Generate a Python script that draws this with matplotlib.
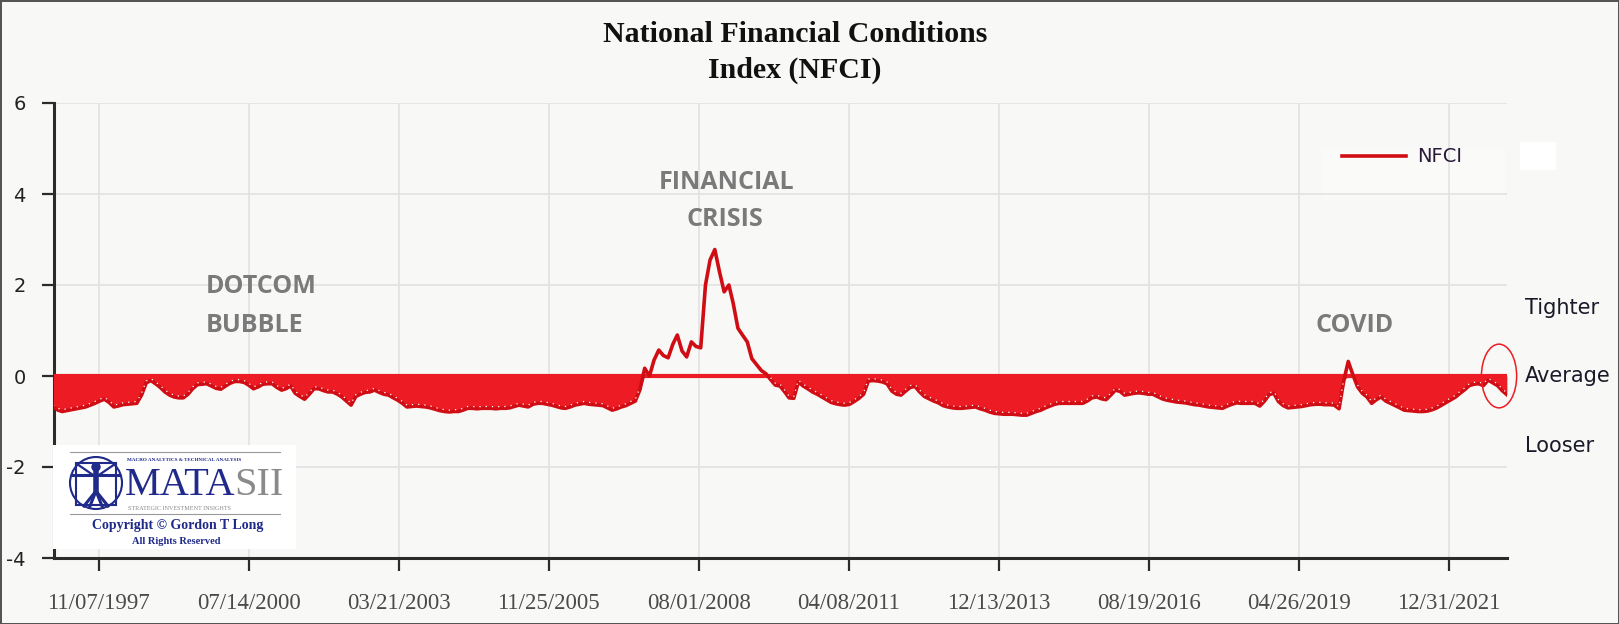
import numpy as np
import pandas as pd
import matplotlib
matplotlib.use("Agg")
import matplotlib.pyplot as plt
import matplotlib.dates as mdates
from matplotlib.patches import Ellipse, Circle, Rectangle
from matplotlib.lines import Line2D

plt.rcParams["axes.unicode_minus"] = False

W, H = 1619, 624

# NFCI, monthly readings, Jan 1997 .. Jan 2023
nfci = [
    -0.68, -0.75, -0.78, -0.76, -0.74, -0.72, -0.70, -0.68, -0.64, -0.60, -0.55, -0.51,  # 1997
    -0.58, -0.68, -0.66, -0.63, -0.62, -0.61, -0.60, -0.42, -0.15, -0.10, -0.17, -0.25,  # 1998
    -0.35, -0.42, -0.46, -0.48, -0.48, -0.40, -0.28, -0.19, -0.18, -0.17, -0.22, -0.27,  # 1999
    -0.29, -0.22, -0.16, -0.12, -0.12, -0.14, -0.20, -0.28, -0.24, -0.18, -0.17, -0.17,  # 2000
    -0.25, -0.31, -0.28, -0.22, -0.38, -0.45, -0.51, -0.40, -0.28, -0.28, -0.32, -0.35,  # 2001
    -0.35, -0.40, -0.46, -0.55, -0.64, -0.45, -0.40, -0.36, -0.35, -0.31, -0.36, -0.40,  # 2002
    -0.42, -0.48, -0.53, -0.60, -0.68, -0.67, -0.66, -0.67, -0.68, -0.70, -0.73, -0.76,  # 2003
    -0.78, -0.79, -0.78, -0.78, -0.75, -0.71, -0.71, -0.72, -0.71, -0.71, -0.71, -0.72,  # 2004
    -0.71, -0.71, -0.70, -0.67, -0.64, -0.66, -0.68, -0.62, -0.60, -0.60, -0.62, -0.64,  # 2005
    -0.67, -0.70, -0.71, -0.68, -0.64, -0.62, -0.60, -0.62, -0.63, -0.64, -0.65, -0.70,  # 2006
    -0.75, -0.72, -0.68, -0.65, -0.60, -0.55, -0.30, 0.17, 0.00, 0.35, 0.57, 0.45,      # 2007
    0.40, 0.70, 0.90, 0.55, 0.42, 0.75, 0.65, 0.62, 2.00, 2.55, 2.78, 2.30,             # 2008
    1.85, 2.00, 1.60, 1.05, 0.90, 0.75, 0.38, 0.25, 0.12, 0.05, -0.08, -0.20,           # 2009
    -0.22, -0.35, -0.48, -0.49, -0.13, -0.22, -0.28, -0.35, -0.40, -0.46, -0.52, -0.58,  # 2010
    -0.61, -0.63, -0.64, -0.62, -0.56, -0.49, -0.40, -0.11, -0.10, -0.11, -0.13, -0.17,  # 2011
    -0.33, -0.40, -0.42, -0.33, -0.25, -0.23, -0.35, -0.45, -0.50, -0.55, -0.59, -0.65,  # 2012
    -0.68, -0.70, -0.71, -0.71, -0.70, -0.69, -0.68, -0.72, -0.75, -0.79, -0.82, -0.83,  # 2013
    -0.84, -0.84, -0.84, -0.85, -0.86, -0.86, -0.82, -0.78, -0.75, -0.70, -0.66, -0.62,  # 2014
    -0.60, -0.60, -0.60, -0.60, -0.60, -0.60, -0.55, -0.48, -0.46, -0.50, -0.52, -0.42,  # 2015
    -0.31, -0.34, -0.42, -0.40, -0.38, -0.37, -0.38, -0.40, -0.40, -0.45, -0.50, -0.53,  # 2016
    -0.55, -0.57, -0.58, -0.59, -0.61, -0.63, -0.64, -0.66, -0.68, -0.69, -0.70, -0.71,  # 2017
    -0.66, -0.62, -0.59, -0.60, -0.60, -0.60, -0.60, -0.66, -0.55, -0.41, -0.38, -0.56,  # 2018
    -0.65, -0.70, -0.69, -0.68, -0.67, -0.65, -0.63, -0.62, -0.62, -0.63, -0.63, -0.64,  # 2019
    -0.72, -0.10, 0.32, 0.02, -0.24, -0.38, -0.46, -0.60, -0.52, -0.46, -0.55, -0.60,    # 2020
    -0.65, -0.70, -0.75, -0.76, -0.77, -0.78, -0.78, -0.77, -0.74, -0.70, -0.64, -0.58,  # 2021
    -0.52, -0.46, -0.38, -0.30, -0.21, -0.18, -0.17, -0.21, -0.09, -0.15, -0.21, -0.32,  # 2022
    -0.41,                                                                                # 2023
]
months = pd.date_range("1997-01-01", periods=len(nfci), freq="MS") + pd.Timedelta(days=14)
nfci = np.array(nfci)

xtick_labels = ["11/07/1997", "07/14/2000", "03/21/2003", "11/25/2005", "08/01/2008",
                "04/08/2011", "12/13/2013", "08/19/2016", "04/26/2019", "12/31/2021"]
yticks = [-4, -2, 0, 2, 4, 6]
side_labels = ["Tighter", "Average", "Looser"]


def fpos(x, y):
    # pixel position -> figure fraction
    return x / W, 1 - y / H


fig = plt.figure(figsize=(W / 100, H / 100), dpi=100)
fig.patch.set_facecolor("#f8f8f6")
fig.patch.set_edgecolor("#555555")
fig.patch.set_linewidth(2)

# faint white patches behind the legend area
fig.patches.append(Rectangle(fpos(1322, 197), 183 / W, 48 / H, transform=fig.transFigure,
                             facecolor="#fafaf9", edgecolor="none", zorder=-5))
fig.patches.append(Rectangle(fpos(1520, 170), 36 / W, 28 / H, transform=fig.transFigure,
                             facecolor="white", edgecolor="none", zorder=-5))

ax = fig.add_axes([53.5 / W, 1 - 558 / H, (1507 - 53.5) / W, (558 - 103) / H])
ax.set_facecolor("none")

red = "#ed1c24"
dark_red = "#d00d14"
ax.fill_between(months, np.minimum(nfci, 0), 0, color=red, lw=0, zorder=3)
ax.plot([months[0], months[-1]], [0, 0], color=red, lw=3, zorder=3)
ax.plot(months, nfci, color=dark_red, lw=2.6, zorder=4)
neg = np.where(nfci < -0.05, nfci + 0.04, np.nan)
ax.plot(months, neg, color="white", lw=0.9, ls=(0, (1, 4)), zorder=5)

ax.set_ylim(-4, 6)
ax.set_yticks(yticks)
ax.set_xlim(pd.Timestamp("1997-01-17"), pd.Timestamp("2023-01-16"))
ax.set_xticks(pd.to_datetime(xtick_labels, format="%m/%d/%Y"))
ax.set_xticklabels(xtick_labels, fontsize=16.5, family="Liberation Serif", color="#4a4a4a")
for t in ax.get_yticklabels():
    t.set_fontsize(14)
    t.set_color("#222222")

ax.grid(True, color="#e2e2e2", lw=1.2)
ax.set_axisbelow(True)
for s in ["top", "right"]:
    ax.spines[s].set_visible(False)
for s in ["left", "bottom"]:
    ax.spines[s].set_linewidth(2.2)
    ax.spines[s].set_color("#2b2b2b")
ax.tick_params(axis="both", direction="out", length=9, width=1.6, color="#2b2b2b")
ax.tick_params(axis="y", pad=11)
ax.tick_params(axis="x", pad=16)

# circled last reading
ell = Ellipse((mdates.date2num(pd.Timestamp("2022-11-25")), 0), width=230, height=1.4,
              fill=False, edgecolor=red, lw=1.1, zorder=6, clip_on=False)
ax.add_patch(ell)

# event labels
ev = dict(color="#7a7a7a", fontweight="bold", family="Open Sans", fontsize=18, va="center")
fig.text(*fpos(206, 287), "DOTCOM", ha="left", **ev)
fig.text(*fpos(206, 325), "BUBBLE", ha="left", **ev)
fig.text(*fpos(727, 182), "FINANCIAL", ha="center", **ev)
fig.text(*fpos(725, 219), "CRISIS", ha="center", **ev)
fig.text(*fpos(1355, 325), "COVID", ha="center", **ev)

# title
fig.text(*fpos(795, 34), "National Financial Conditions", ha="center", va="center",
         family="Liberation Serif", fontweight="bold", fontsize=21.5, color="#111111")
fig.text(*fpos(795, 70), "Index (NFCI)", ha="center", va="center",
         family="Liberation Serif", fontweight="bold", fontsize=21.5, color="#111111")

# right-hand side labels
for lab, yy in zip(side_labels, [308, 376, 446]):
    fig.text(*fpos(1525, yy), lab, ha="left", va="center", fontsize=15, color="#1a1a2a")

# legend
leg = fig.legend(handles=[Line2D([], [], color=dark_red, lw=2.6)], labels=["NFCI"],
                 loc="center left", bbox_to_anchor=fpos(1342, 157),
                 bbox_transform=fig.transFigure, frameon=False, fontsize=14,
                 handlelength=3.3, handletextpad=0.55, borderpad=0, borderaxespad=0)
leg.set_zorder(10)
for t in leg.get_texts():
    t.set_color("#2a1a3a")

# logo box
lg = fig.add_axes([53 / W, 1 - 549 / H, 243 / W, 104 / H])
lg.set_xlim(0, 243)
lg.set_ylim(104, 0)
lg.axis("off")
navy = "#1f2a8a"
lg.add_patch(Rectangle((0, 0), 243, 104, facecolor="white", edgecolor="none"))
lg.plot([17, 227], [6.5, 6.5], color="#9a9a9a", lw=0.8)
lg.plot([17, 227], [69, 69], color="#9a9a9a", lw=0.8)
lg.add_patch(Circle((43, 38), 26, fill=False, edgecolor=navy, lw=1.5))
lg.add_patch(Rectangle((23, 18), 40, 42, fill=False, edgecolor=navy, lw=1.5))
lg.add_patch(Circle((43, 22), 4, color=navy))
lg.plot([43, 43], [26, 46], color=navy, lw=4)
lg.plot([20, 66], [30, 30], color=navy, lw=2.2)
lg.plot([24, 43, 62], [19, 32, 19], color=navy, lw=1.6)
lg.plot([31, 43, 55], [61, 46, 61], color=navy, lw=2.2)
lg.plot([37, 43, 49], [61, 46, 61], color=navy, lw=2.2)
lg.text(74, 15, "MACRO ANALYTICS & TECHNICAL ANALYSIS", fontsize=3.7, color=navy,
        family="Liberation Serif", fontweight="bold", va="center", ha="left")
lg.text(72, 50, "MATA", fontsize=29, color=navy, family="Liberation Serif",
        va="baseline", ha="left")
lg.text(181, 50, "SII", fontsize=29, color="#8a8a8a", family="Liberation Serif",
        va="baseline", ha="left")
lg.text(75, 64, "STRATEGIC INVESTMENT INSIGHTS", fontsize=4.4, color="#8a8a8a",
        family="Liberation Serif", va="center", ha="left")
lg.text(125, 81, "Copyright \u00a9 Gordon T Long", fontsize=10, color=navy,
        family="Liberation Serif", fontweight="bold", va="center", ha="center")
lg.text(123, 96, "All Rights Reserved", fontsize=7.5, color=navy,
        family="Liberation Serif", fontweight="bold", va="center", ha="center")

fig.savefig("out.png", dpi=100, facecolor=fig.get_facecolor(), edgecolor=fig.get_edgecolor())
